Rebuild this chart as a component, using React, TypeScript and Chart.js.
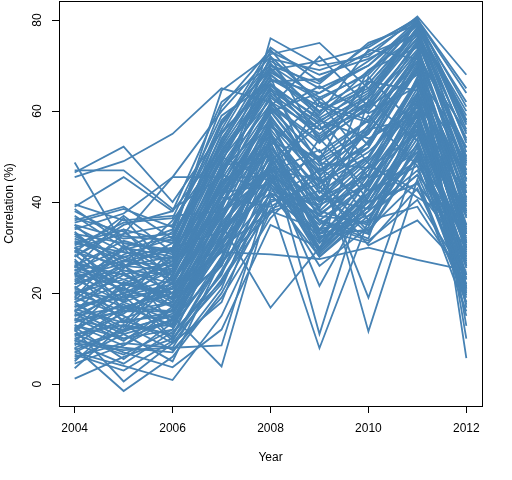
import React, { useEffect, useRef } from "react";
import { Chart, registerables } from "chart.js";

Chart.register(...registerables);

const years = [2004, 2005, 2006, 2007, 2008, 2009, 2010, 2011, 2012];
const xTicks = [2004, 2006, 2008, 2010, 2012];
const yTicks = [0, 20, 40, 60, 80];

// correlation (%) per series, one value per year 2004..2012
const correlations: number[][] = [
  [48.7, 30.5, 22.0, 41.0, 61.0, 49.0, 55.0, 71.0, 41.0],
  [46.5, 52.2, 40.0, 55.5, 66.0, 58.0, 63.0, 76.0, 47.0],
  [45.5, 49.0, 55.0, 65.0, 62.0, 56.0, 60.0, 73.0, 52.0],
  [47.0, 47.0, 38.5, 45.5, 70.0, 63.0, 68.0, 79.0, 58.0],
  [39.0, 45.5, 38.0, 52.0, 68.0, 60.0, 66.0, 78.0, 45.0],
  [34.0, 37.5, 45.5, 45.5, 67.0, 64.0, 70.0, 80.0, 55.0],
  [30.0, 33.0, 45.5, 60.0, 72.0, 62.0, 58.0, 75.0, 50.0],
  [39.5, 36.0, 37.0, 38.0, 76.0, 70.0, 72.0, 80.8, 68.0],
  [36.0, 39.0, 32.0, 64.5, 72.5, 75.0, 65.0, 78.0, 60.0],
  [28.0, 35.0, 38.0, 62.0, 70.0, 66.0, 75.0, 79.0, 62.0],
  [25.0, 30.0, 34.0, 58.0, 69.0, 71.0, 74.0, 80.5, 58.0],
  [32.0, 28.0, 30.0, 55.0, 73.0, 68.0, 71.5, 77.0, 54.0],
  [22.0, 26.0, 28.0, 50.0, 66.0, 54.0, 62.0, 80.0, 49.0],
  [18.0, 24.0, 27.0, 48.0, 50.0, 33.0, 40.0, 55.0, 30.0],
  [15.0, 20.0, 25.0, 45.0, 46.0, 38.0, 35.0, 52.0, 26.0],
  [12.0, 18.0, 22.0, 42.0, 44.0, 31.0, 42.0, 48.0, 33.0],
  [26.0, 22.0, 20.0, 40.0, 56.0, 42.0, 50.0, 66.0, 42.0],
  [20.0, 16.0, 18.0, 36.0, 55.0, 38.0, 48.0, 63.0, 32.0],
  [10.0, 14.0, 15.0, 34.0, 42.0, 28.0, 37.0, 46.0, 23.0],
  [8.0, 12.0, 13.0, 30.0, 38.0, 34.0, 31.0, 43.0, 20.0],
  [30.0, 25.0, 24.0, 44.0, 60.0, 46.0, 53.0, 72.0, 40.0],
  [24.0, 19.0, 21.0, 38.0, 48.0, 36.0, 33.0, 58.0, 38.0],
  [16.0, 21.0, 17.0, 33.0, 48.0, 30.0, 40.0, 56.0, 30.0],
  [13.0, 10.0, 12.0, 28.0, 46.0, 28.0, 38.0, 54.0, 22.0],
  [6.0, 9.0, 8.0, 25.0, 44.0, 33.0, 36.0, 52.0, 20.0],
  [1.2, 6.0, 10.0, 22.0, 42.0, 36.0, 44.0, 62.0, 33.0],
  [8.0, -1.5, 6.0, 20.0, 40.0, 44.0, 50.0, 67.0, 45.0],
  [12.0, 0.6, 9.0, 18.0, 45.0, 50.0, 58.0, 71.0, 48.0],
  [7.0, 4.0, 0.9, 15.0, 38.0, 41.0, 46.0, 64.0, 39.0],
  [11.0, 7.0, 3.7, 12.0, 35.0, 30.0, 39.0, 55.0, 27.0],
  [14.0, 12.0, 15.0, 3.9, 41.0, 47.0, 52.0, 69.0, 43.0],
  [9.0, 7.5, 8.0, 8.5, 43.0, 39.0, 49.0, 61.0, 37.0],
  [19.0, 15.0, 9.0, 23.0, 40.0, 7.9, 36.0, 57.0, 30.0],
  [23.0, 18.0, 14.0, 32.0, 50.0, 11.0, 45.0, 59.0, 34.0],
  [27.0, 23.0, 19.0, 35.0, 47.0, 21.6, 41.0, 62.0, 46.0],
  [21.0, 17.0, 16.0, 35.0, 16.8, 30.0, 43.0, 60.0, 26.0],
  [17.0, 20.0, 23.0, 37.0, 53.0, 50.0, 11.6, 45.0, 18.0],
  [25.0, 27.0, 26.0, 43.0, 58.0, 46.0, 19.0, 50.0, 24.0],
  [29.0, 26.0, 20.0, 29.0, 28.5, 27.5, 30.0, 27.3, 25.0],
  [31.0, 29.0, 27.0, 46.0, 63.0, 55.0, 63.0, 77.0, 5.7],
  [22.0, 25.0, 22.0, 41.0, 57.0, 48.0, 56.0, 73.0, 10.0],
  [18.0, 22.0, 19.0, 39.0, 61.0, 53.0, 61.0, 75.0, 12.8],
  [15.0, 17.0, 20.0, 37.0, 59.0, 44.0, 52.0, 70.0, 16.8],
  [5.5, 11.0, 14.0, 26.0, 51.0, 37.0, 47.0, 65.0, 21.0],
  [33.0, 31.0, 29.0, 47.0, 65.0, 57.0, 64.0, 78.5, 57.0],
  [35.0, 32.0, 33.0, 51.0, 67.0, 61.0, 67.0, 79.5, 53.0],
  [28.0, 34.0, 31.0, 49.0, 68.0, 59.0, 69.0, 76.5, 50.0],
  [23.0, 28.0, 24.0, 44.0, 52.0, 40.0, 46.0, 60.0, 41.0],
  [20.0, 23.0, 26.0, 40.0, 47.0, 30.0, 45.0, 56.0, 35.0],
  [17.0, 19.0, 21.0, 31.0, 45.0, 29.0, 39.0, 51.0, 28.0],
  [14.0, 16.0, 16.0, 27.0, 53.0, 34.0, 48.0, 66.0, 31.0],
  [11.0, 13.0, 11.0, 24.0, 49.0, 31.0, 43.0, 63.0, 29.0],
  [9.5, 8.0, 7.0, 21.0, 47.0, 29.0, 41.0, 59.0, 23.0],
  [26.5, 24.0, 18.0, 34.0, 55.0, 43.0, 57.0, 72.0, 47.0],
  [24.5, 21.0, 17.5, 30.0, 52.0, 37.0, 46.0, 67.0, 39.0],
  [32.5, 27.5, 23.0, 42.0, 60.0, 47.0, 55.0, 69.0, 35.0],
  [37.0, 30.0, 28.0, 48.0, 64.0, 56.0, 62.0, 74.5, 42.0],
  [19.5, 26.0, 30.0, 53.0, 69.0, 60.0, 65.0, 77.5, 51.0],
  [16.5, 13.5, 25.0, 39.0, 62.0, 51.0, 58.0, 72.5, 37.5],
  [13.5, 17.5, 12.5, 36.0, 57.0, 45.0, 53.0, 70.5, 33.5],
  [21.5, 14.0, 10.5, 33.0, 54.0, 41.0, 50.0, 64.0, 28.5],
  [28.5, 20.0, 14.5, 29.5, 45.0, 35.0, 44.0, 61.0, 30.5],
  [33.5, 24.5, 18.5, 26.0, 51.0, 33.0, 42.0, 58.0, 26.5],
  [24.0, 33.0, 35.0, 57.0, 71.0, 65.0, 70.0, 79.0, 56.0],
  [30.5, 35.5, 36.5, 59.0, 66.5, 67.0, 73.0, 80.0, 64.0],
  [38.0, 32.5, 31.5, 53.5, 71.5, 69.0, 72.5, 77.0, 48.5],
  [10.5, 15.5, 23.5, 46.5, 65.5, 58.5, 64.5, 76.0, 46.0],
  [7.5, 11.5, 19.5, 43.5, 63.5, 54.5, 61.5, 73.5, 43.5],
  [4.5, 8.5, 16.5, 38.5, 60.5, 49.5, 56.5, 69.5, 40.5],
  [12.5, 5.5, 13.5, 32.0, 58.5, 46.5, 55.5, 68.5, 38.0],
  [16.0, 11.0, 5.0, 27.5, 54.5, 40.5, 49.5, 66.5, 34.5],
  [22.5, 29.5, 32.5, 50.5, 64.5, 57.5, 66.0, 78.0, 59.0],
  [26.0, 31.5, 28.5, 54.0, 68.5, 62.5, 68.5, 79.8, 61.0],
  [29.5, 21.5, 25.5, 47.5, 61.5, 53.5, 60.5, 75.5, 49.5],
  [18.5, 27.0, 29.5, 51.5, 66.0, 56.0, 63.5, 77.8, 53.5],
  [35.5, 38.5, 34.5, 56.0, 74.0, 66.5, 74.5, 80.2, 65.0],
  [25.5, 36.5, 24.5, 41.5, 60.0, 64.0, 71.0, 78.8, 57.5],
  [31.5, 27.0, 33.5, 61.0, 73.5, 61.0, 57.5, 69.0, 31.0],
  [20.5, 18.5, 26.5, 47.0, 58.0, 36.0, 32.0, 62.5, 29.5],
  [14.5, 9.5, 17.0, 31.5, 43.5, 26.0, 34.5, 53.0, 21.5],
  [9.0, 4.5, 11.5, 22.5, 38.5, 42.5, 33.0, 50.0, 19.0],
  [3.5, 13.0, 7.5, 19.0, 36.5, 47.5, 40.0, 57.0, 15.0],
  [11.5, 19.5, 9.5, 28.0, 49.0, 58.0, 54.0, 60.0, 24.0],
  [27.5, 16.5, 21.5, 36.5, 52.5, 63.0, 52.5, 72.0, 36.5],
  [34.5, 29.0, 27.5, 52.5, 70.5, 58.5, 45.5, 67.5, 33.0],
  [20.0, 24.5, 17.0, 35.5, 48.0, 57.0, 40.0, 44.0, 30.0],
  [15.5, 10.0, 14.0, 30.5, 44.0, 62.0, 48.5, 41.0, 35.0],
  [26.0, 20.5, 28.0, 42.5, 55.5, 32.0, 38.0, 47.0, 27.0],
  [31.0, 34.0, 22.5, 37.5, 46.5, 51.5, 36.0, 39.0, 22.0],
  [8.5, 16.0, 20.0, 41.0, 39.0, 45.5, 59.0, 48.0, 19.5],
  [17.5, 12.5, 24.0, 44.5, 50.5, 29.0, 62.5, 53.5, 28.0],
  [23.5, 26.5, 13.0, 39.5, 57.5, 38.5, 67.5, 56.5, 42.5],
  [36.5, 33.5, 26.0, 49.5, 62.5, 44.5, 51.0, 61.5, 46.5],
  [12.0, 22.5, 19.0, 48.5, 72.0, 53.0, 66.5, 64.5, 39.5],
  [29.0, 37.0, 29.0, 57.5, 69.5, 59.5, 73.5, 71.5, 55.5],
  [10.0, 6.5, 12.0, 35.0, 47.5, 34.0, 37.0, 46.0, 32.5],
  [5.0, 14.5, 18.0, 40.0, 53.5, 43.5, 30.5, 36.0, 24.5],
  [33.0, 25.5, 36.0, 51.0, 65.0, 48.5, 47.5, 55.0, 37.0],
  [19.0, 30.5, 24.0, 45.0, 61.0, 72.0, 61.0, 68.0, 52.0],
  [27.0, 18.0, 30.0, 33.5, 56.5, 49.0, 69.0, 74.0, 44.5],
  [14.0, 21.5, 10.0, 24.5, 42.0, 37.5, 44.5, 51.0, 17.5],
  [21.0, 28.5, 32.0, 55.0, 67.5, 42.0, 56.0, 58.5, 34.0],
  [38.5, 31.0, 29.5, 43.0, 59.5, 65.5, 59.5, 65.5, 49.0],
  [6.5, 3.0, 9.5, 27.0, 37.5, 54.0, 42.5, 49.0, 26.0],
  [24.5, 13.5, 16.0, 31.0, 48.5, 40.0, 53.5, 62.0, 31.5],
  [12.5, 16.5, 21.0, 29.0, 41.5, 32.5, 34.0, 44.5, 16.0],
  [18.0, 11.5, 15.5, 34.0, 45.5, 29.5, 41.5, 52.5, 20.5],
  [25.0, 22.0, 27.0, 38.0, 49.5, 35.5, 31.5, 40.5, 23.5],
  [9.5, 17.0, 13.0, 26.5, 40.5, 41.0, 38.5, 58.0, 27.5],
  [30.0, 19.5, 22.0, 44.0, 53.0, 31.5, 46.0, 63.5, 21.0],
  [16.0, 25.5, 31.0, 50.0, 44.5, 37.0, 35.5, 55.5, 38.5],
  [22.0, 30.0, 18.5, 37.0, 51.5, 33.5, 48.0, 42.5, 29.0],
  [13.0, 8.5, 14.5, 32.5, 47.0, 45.0, 33.5, 50.5, 18.0],
  [35.0, 26.0, 25.0, 46.0, 42.5, 39.5, 43.5, 59.5, 25.5],
  [7.0, 12.0, 22.5, 42.0, 55.0, 28.5, 39.0, 49.5, 34.0],
];

const FONT = "'Liberation Sans', Arial, sans-serif";

const boxPlugin = {
  id: "box",
  afterDraw(chart: any) {
    const { ctx, chartArea } = chart;
    ctx.save();
    ctx.strokeStyle = "#000";
    ctx.lineWidth = 1;
    const l = Math.round(chartArea.left) + 0.5;
    const t = Math.round(chartArea.top) + 0.5;
    const r = Math.round(chartArea.right) + 0.5;
    const b = Math.round(chartArea.bottom) + 0.5;
    ctx.strokeRect(l, t, r - l, b - t);
    ctx.restore();
  },
};

export default function App() {
  const ref = useRef<HTMLCanvasElement>(null);

  useEffect(() => {
    document.body.style.margin = "0";
    const canvas = ref.current;
    if (!canvas) return;
    const chart = new Chart(canvas, {
      type: "line",
      data: {
        datasets: correlations.map((vals) => ({
          data: vals.map((v, i) => ({ x: years[i], y: v })),
          borderColor: "#4682B4",
          borderWidth: 1.8,
          pointRadius: 0,
          tension: 0,
          fill: false,
        })),
      },
      options: {
        animation: false,
        responsive: false,
        devicePixelRatio: 1,
        layout: { padding: { top: 1, right: 30, left: 0, bottom: 0 } },
        plugins: { legend: { display: false }, tooltip: { enabled: false } },
        scales: {
          x: {
            type: "linear",
            min: 2003.68,
            max: 2012.32,
            afterBuildTicks: (s: any) => {
              s.ticks = xTicks.map((v) => ({ value: v }));
            },
            afterFit: (s: any) => {
              s.height = 74;
              s.paddingLeft = 0;
              s.paddingRight = 0;
            },
            grid: {
              drawOnChartArea: false,
              tickLength: 7,
              color: "#000",
            },
            border: { display: true, color: "#000" },
            ticks: {
              autoSkip: false,
              maxRotation: 0,
              padding: 8,
              color: "#000",
              font: { family: FONT, size: 12 },
              callback: (v: any) => String(v),
            },
            title: {
              display: true,
              text: "Year",
              color: "#000",
              font: { family: FONT, size: 12 },
              padding: { top: 0, bottom: 15 },
            },
          },
          y: {
            type: "linear",
            min: -4.8,
            max: 84.2,
            afterBuildTicks: (s: any) => {
              s.ticks = yTicks.map((v) => ({ value: v }));
            },
            afterFit: (s: any) => {
              s.width = 59;
              s.paddingTop = 0;
              s.paddingBottom = 0;
            },
            grid: {
              drawOnChartArea: false,
              tickLength: 7,
              color: "#000",
            },
            border: { display: true, color: "#000" },
            ticks: {
              autoSkip: false,
              minRotation: 90,
              maxRotation: 90,
              crossAlign: "center",
              padding: 7.5,
              color: "#000",
              font: { family: FONT, size: 12 },
              callback: (v: any) => String(v),
            },
            title: {
              display: true,
              text: "Correlation (%)",
              color: "#000",
              font: { family: FONT, size: 12 },
              padding: { top: 2, bottom: 0 },
            },
          },
        },
      },
      plugins: [boxPlugin],
    });
    return () => chart.destroy();
  }, []);

  return <canvas ref={ref} width={512} height={480} style={{ display: "block" }} />;
}
